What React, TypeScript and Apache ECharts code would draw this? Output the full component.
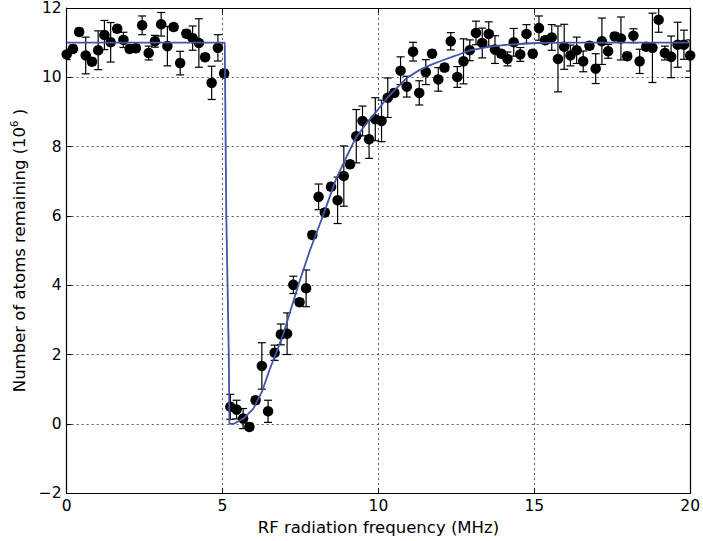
import React, { useEffect, useRef } from "react";
import * as echarts from "echarts";

const freqMHz = [
  0, 0.2, 0.4, 0.61, 0.81, 1.01, 1.21, 1.41, 1.62, 1.82,
  2.02, 2.22, 2.42, 2.63, 2.83, 3.03, 3.23, 3.43, 3.64, 3.84,
  4.04, 4.24, 4.44, 4.65, 4.85, 5.05, 5.25, 5.45, 5.66, 5.86,
  6.06, 6.26, 6.46, 6.67, 6.87, 7.07, 7.27, 7.47, 7.68, 7.88,
  8.08, 8.28, 8.48, 8.69, 8.89, 9.09, 9.29, 9.49, 9.7, 9.9,
  10.1, 10.3, 10.51, 10.71, 10.91, 11.11, 11.31, 11.52, 11.72, 11.92,
  12.12, 12.32, 12.53, 12.73, 12.93, 13.13, 13.33, 13.54, 13.74, 13.94,
  14.14, 14.34, 14.55, 14.75, 14.95, 15.15, 15.35, 15.56, 15.76, 15.96,
  16.16, 16.36, 16.57, 16.77, 16.97, 17.17, 17.37, 17.58, 17.78, 17.98,
  18.18, 18.38, 18.59, 18.79, 18.99, 19.19, 19.39, 19.6, 19.8, 20.0,
];

const atoms = [
  10.66, 10.82, 11.31, 10.63, 10.45, 10.78, 11.22, 11.01, 11.4, 11.08,
  10.82, 10.84, 11.5, 10.7, 11.04, 11.53, 10.9, 11.45, 10.41, 11.26,
  11.13, 10.99, 10.58, 9.84, 10.85, 10.11, 0.49, 0.41, 0.15, -0.09,
  0.68, 1.67, 0.36, 2.05, 2.58, 2.6, 4.01, 3.51, 3.91, 5.45,
  6.55, 6.1, 6.84, 6.45, 7.15, 7.49, 8.3, 8.74, 8.21, 8.79,
  8.74, 9.41, 9.55, 10.19, 9.73, 10.74, 9.55, 10.15, 10.68, 9.94,
  10.28, 11.04, 10.01, 10.46, 10.78, 11.28, 10.99, 11.25, 10.8, 10.68,
  10.53, 11.01, 10.66, 11.25, 10.68, 11.42, 11.07, 11.15, 10.53, 10.88,
  10.63, 10.78, 10.46, 10.91, 10.25, 11.04, 10.75, 11.18, 11.12, 10.61,
  11.2, 10.46, 10.88, 10.85, 11.66, 10.7, 10.59, 10.94, 10.94, 10.63,
];

const atomsErr = [
  0.15, 0.1, 0.1, 0.53, 0.1, 0.56, 0.42, 0.57, 0.1, 0.22,
  0.1, 0.1, 0.27, 0.2, 0.17, 0.34, 0.57, 0.1, 0.34, 0.1,
  0.35, 0.7, 0.1, 0.48, 0.38, 0.1, 0.36, 0.27, 0.29, 0.1,
  0.1, 0.67, 0.32, 0.22, 0.3, 0.6, 0.25, 0.1, 0.53, 0.1,
  0.37, 0.1, 0.1, 0.67, 0.87, 0.1, 0.77, 0.43, 0.55, 0.62,
  0.6, 0.57, 0.1, 0.4, 0.3, 0.27, 0.35, 0.36, 0.1, 0.34,
  0.1, 0.25, 0.3, 0.65, 0.3, 0.34, 0.43, 0.35, 0.4, 0.1,
  0.2, 0.4, 0.2, 0.27, 0.1, 0.35, 0.1, 0.37, 0.95, 0.65,
  0.3, 0.38, 0.3, 0.1, 0.43, 0.67, 0.2, 0.1, 0.62, 0.1,
  0.2, 0.35, 0.1, 1.0, 0.36, 0.2, 0.6, 0.65, 0.42, 0.45,
];

const fitX = [
  0, 5.07, 5.12, 5.2, 5.22, 5.36, 5.67, 5.99, 6.26, 6.52,
  6.73, 6.95, 7.43, 7.8, 8.22, 8.64, 9.0, 9.28, 9.6, 9.86,
  10.29, 10.6, 10.92, 11.3, 11.66, 12.0, 12.5, 12.94, 13.5, 14.0,
  15.06, 16.0, 20.0,
];
const fitY = [
  11.0, 11.0, 6.0, 2.0, 0.0, 0.0, 0.15, 0.44, 0.92, 1.59,
  2.07, 2.6, 4.0, 5.0, 6.0, 7.06, 7.75, 8.26, 8.65, 8.93,
  9.41, 9.7, 9.99, 10.2, 10.35, 10.47, 10.63, 10.78, 10.87, 10.93,
  10.99, 11.0, 11.0,
];

const xTicks = [0, 5, 10, 15, 20];
const yTicks = [-2, 0, 2, 4, 6, 8, 10, 12];

const FONT = "DejaVu Sans";

export default function App() {
  const ref = useRef<HTMLDivElement>(null);
  useEffect(() => {
    if (!ref.current) return;
    const chart = echarts.init(ref.current, undefined, { renderer: "svg" });
    const pts = freqMHz.map((x, i) => [x, atoms[i]]);
    const errs = freqMHz.map((x, i) => [x, atoms[i] - atomsErr[i], atoms[i] + atomsErr[i]]);
    const fit = fitX.map((x, i) => [x, fitY[i]]);
    const gridLine = { show: true, lineStyle: { color: "#333", width: 0.8, type: [2, 3] as any } };
    const xBase = {
      type: "value" as const,
      min: xTicks[0],
      max: xTicks[xTicks.length - 1],
      interval: 5,
      axisLine: { show: true, onZero: false, lineStyle: { color: "#000", width: 1.2 } },
      axisTick: { show: true, inside: true, length: 5, lineStyle: { color: "#000" } },
    };
    const yBase = {
      type: "value" as const,
      min: yTicks[0],
      max: yTicks[yTicks.length - 1],
      interval: 2,
      axisLine: { show: true, onZero: false, lineStyle: { color: "#000", width: 1.2 } },
      axisTick: { show: true, inside: true, length: 5, lineStyle: { color: "#000" } },
    };
    chart.setOption({
      animation: false,
      backgroundColor: "#fff",
      grid: { left: 66.7, right: 8, top: 8, bottom: 46, containLabel: false },
      xAxis: [
        {
          ...xBase,
          position: "bottom",
          name: "RF radiation frequency (MHz)",
          nameLocation: "middle",
          nameGap: 23,
          nameTextStyle: { fontFamily: FONT, fontSize: 16.5, color: "#000" },
          axisLabel: { fontFamily: FONT, fontSize: 15.5, color: "#000", margin: 5 },
          splitLine: gridLine,
        },
        {
          ...xBase,
          position: "top",
          axisLabel: { show: false },
          splitLine: { show: false },
        },
      ],
      yAxis: [
        {
          ...yBase,
          position: "left",
          name: "Number of atoms remaining (10{sup|6} )",
          nameLocation: "middle",
          nameGap: 38,
          nameTextStyle: {
            fontFamily: FONT,
            fontSize: 16.5,
            color: "#000",
            rich: {
              sup: { fontFamily: FONT, fontSize: 10, color: "#000", verticalAlign: "top", padding: [0, 0, 9, 0] },
            },
          },
          axisLabel: {
            fontFamily: FONT,
            fontSize: 15.5,
            color: "#000",
            margin: 5,
            formatter: (v: number) => (v < 0 ? "\u2212" + Math.abs(v) : String(v)),
          },
          splitLine: gridLine,
        },
        {
          ...yBase,
          position: "right",
          axisLabel: { show: false },
          splitLine: { show: false },
        },
      ],
      series: [
        {
          type: "custom",
          clip: true,
          data: errs,
          renderItem: (params: any, api: any) => {
            const x = api.value(0);
            const lo = api.coord([x, api.value(1)]);
            const hi = api.coord([x, api.value(2)]);
            const cap = 4;
            const style = { stroke: "#000", lineWidth: 1.2 };
            return {
              type: "group",
              children: [
                { type: "line", shape: { x1: lo[0], y1: lo[1], x2: hi[0], y2: hi[1] }, style },
                { type: "line", shape: { x1: lo[0] - cap, y1: lo[1], x2: lo[0] + cap, y2: lo[1] }, style },
                { type: "line", shape: { x1: hi[0] - cap, y1: hi[1], x2: hi[0] + cap, y2: hi[1] }, style },
              ],
            };
          },
          z: 2,
        },
        {
          type: "scatter",
          data: pts,
          symbol: "circle",
          symbolSize: 10.5,
          itemStyle: { color: "#000", opacity: 1 },
          z: 3,
        },
        {
          type: "line",
          data: fit,
          showSymbol: false,
          symbol: "none",
          lineStyle: { color: "#4454a6", width: 1.8 },
          z: 4,
        },
      ],
    });
    return () => chart.dispose();
  }, []);
  return (
    <div
      ref={ref}
      style={{ position: "fixed", left: 0, top: 0, width: 703, height: 541, background: "#fff" }}
    />
  );
}
